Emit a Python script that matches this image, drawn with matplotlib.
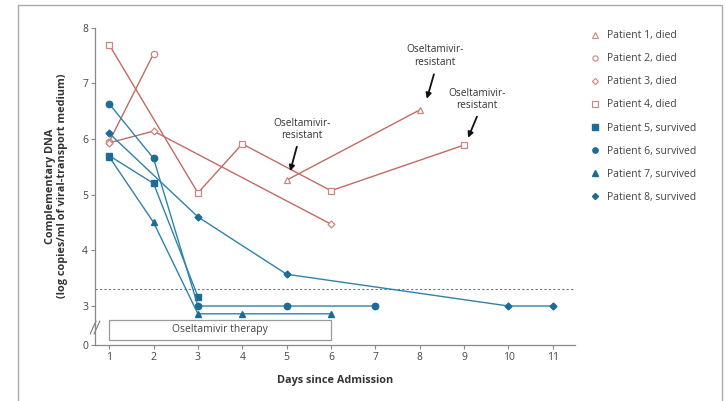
import matplotlib
matplotlib.use("Agg")
import matplotlib.pyplot as plt
from matplotlib.lines import Line2D
from matplotlib.patches import Rectangle

plt.rcParams['font.family'] = ['Open Sans', 'DejaVu Sans']

# Data (days, log copies/ml)
p1_days = [5, 8];             p1_vals = [5.26, 6.52]
p2_days = [1, 2];             p2_vals = [5.95, 7.53]
p3_days = [1, 2, 6];          p3_vals = [5.93, 6.14, 4.47]
p4_days = [1, 3, 4, 6, 9];    p4_vals = [7.69, 5.03, 5.91, 5.07, 5.89]
p5_days = [1, 2, 3];          p5_vals = [5.70, 5.20, 3.17]
p6_days = [1, 2, 3, 5, 7];    p6_vals = [6.63, 5.65, 3.00, 3.00, 3.00]
p7_days = [1, 2, 3, 4, 6];    p7_vals = [5.68, 4.50, 2.86, 2.86, 2.86]
p8_days = [1, 3, 5, 10, 11];  p8_vals = [6.10, 4.60, 3.57, 3.00, 3.00]

labels = ["Patient 1, died", "Patient 2, died", "Patient 3, died", "Patient 4, died",
          "Patient 5, survived", "Patient 6, survived", "Patient 7, survived", "Patient 8, survived"]
x_ticks = [1, 2, 3, 4, 5, 6, 7, 8, 9, 10, 11]
y_ticks = [3, 4, 5, 6, 7, 8]
threshold = 3.31

RED_L = '#c46a62'
RED_M = '#cf857d'
BLUE_L = '#2f82ab'
BLUE_M = '#1c6b98'

fig = plt.figure(figsize=(7.26, 4.01), dpi=100)
ax = fig.add_axes([95/726, 1-345/401, (575-95)/726, (345-27.5)/401])

series = [
    (p1_days, p1_vals, '^', 'died'),
    (p2_days, p2_vals, 'o', 'died'),
    (p3_days, p3_vals, 'D', 'died'),
    (p4_days, p4_vals, 's', 'died'),
    (p5_days, p5_vals, 's', 'surv'),
    (p6_days, p6_vals, 'o', 'surv'),
    (p7_days, p7_vals, '^', 'surv'),
    (p8_days, p8_vals, 'D', 'surv'),
]

handles = []
for (d, v, m, kind), lab in zip(series, labels):
    ms = 3.5 if m == 'D' else 4.6
    if kind == 'died':
        ax.plot(d, v, color=RED_L, lw=1.0, marker=m, ms=ms, mfc='white', mec=RED_M, mew=0.9, zorder=3)
        handles.append(Line2D([], [], ls='none', marker=m, ms=3.8 if m != 'D' else 3.1,
                              mfc='white', mec=RED_M, mew=0.8, label=lab))
    else:
        ax.plot(d, v, color=BLUE_L, lw=1.0, marker=m, ms=ms, mfc=BLUE_M, mec=BLUE_M, zorder=4)
        handles.append(Line2D([], [], ls='none', marker=m, ms=3.8 if m != 'D' else 3.1,
                              mfc=BLUE_M, mec=BLUE_M, label=lab))

ax.axhline(threshold, color='#777777', lw=0.8, ls=(0, (2, 2)), zorder=1)

# Oseltamivir therapy box
ax.add_patch(Rectangle((1, 2.39), 5, 0.36, fill=False, ec='#999999', lw=0.9, zorder=2))
ax.text(3.5, 2.57, "Oseltamivir therapy", ha='center', va='center', fontsize=7.5, color='#444444')

# Annotations
def annot(tx, ty, tail, head):
    ax.text(tx, ty, "Oseltamivir-\nresistant", ha='center', va='center', fontsize=7.3,
            color='#333333', linespacing=1.2)
    ax.annotate("", xy=head, xytext=tail,
                arrowprops=dict(arrowstyle='-|>', color='#111111', lw=1.3,
                                mutation_scale=8, shrinkA=0, shrinkB=0))

annot(5.35, 6.17, (5.23, 5.86), (5.08, 5.42))
annot(8.34, 7.49, (8.32, 7.16), (8.16, 6.72))
annot(9.29, 6.71, (9.29, 6.40), (9.09, 6.02))

ax.set_xlim(0.68, 11.5)
ax.set_ylim(2.3, 8.0)
ax.set_xticks(x_ticks)
ax.set_yticks([2.3] + y_ticks)
ax.set_yticklabels(['0'] + [str(t) for t in y_ticks])
for s in ['top', 'right']:
    ax.spines[s].set_visible(False)
for s in ['left', 'bottom']:
    ax.spines[s].set_color('#888888')
    ax.spines[s].set_linewidth(0.9)
ax.tick_params(axis='both', direction='out', length=3, width=0.8, color='#888888',
               labelsize=7.5, labelcolor='#444444', pad=2)

# axis break marks "//"
for dx in (-0.004, 0.004):
    ax.plot([dx - 0.006, dx + 0.006], [0.035, 0.075], transform=ax.transAxes,
            color='#777777', lw=0.8, clip_on=False)

ax.set_xlabel("Days since Admission", fontsize=7.8, fontweight='bold', color='#333333', labelpad=9)
ax.set_ylabel("Complementary DNA\n(log copies/ml of viral-transport medium)", fontsize=7.8,
              fontweight='bold', color='#333333', labelpad=10, linespacing=1.1)

leg = fig.legend(handles=handles, loc='upper left', bbox_to_anchor=(586/726, 1-25/401),
                 frameon=False, fontsize=7.5, handlelength=0.8, handletextpad=0.7,
                 labelspacing=1.16, borderpad=0)
for t in leg.get_texts():
    t.set_color('#444444')

# outer frame
fig.add_artist(Rectangle((18/726, -0.02), 704/726, 1.02 - 5/401, transform=fig.transFigure,
                         fill=False, ec='#aaaaaa', lw=1.0))

fig.savefig("out.png", dpi=100)
